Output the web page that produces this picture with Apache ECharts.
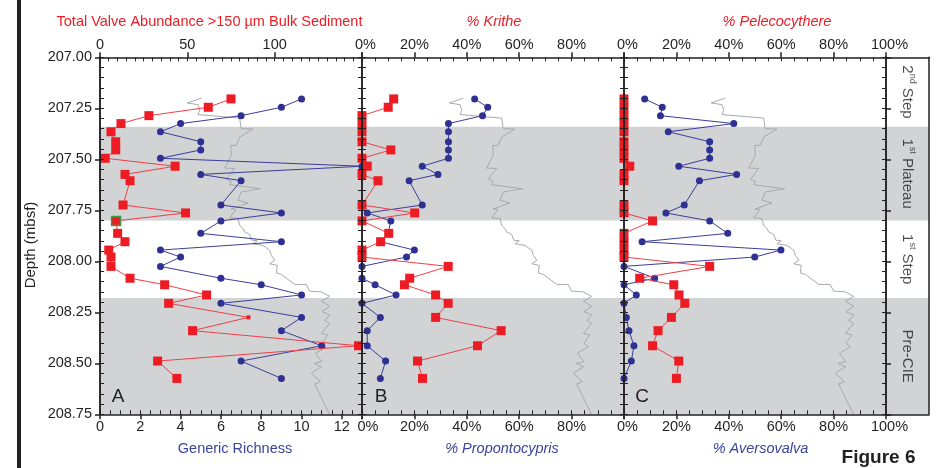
<!DOCTYPE html>
<html>
<head>
<meta charset="utf-8">
<script src="https://cdn.jsdelivr.net/npm/echarts@6/dist/echarts.min.js"></script>
<style>
  html, body { margin: 0; padding: 0; background: #fff; }
  #chart { width: 950px; height: 468px; }
</style>
</head>
<body>
<div id="chart"></div>
<script>
// Sample depths (mbsf) shared by all ostracod series
const depths = [207.204, 207.245, 207.286, 207.325, 207.365, 207.414, 207.454, 207.495, 207.534, 207.574,
  207.605, 207.724, 207.763, 207.802, 207.863, 207.904, 207.945, 207.979, 208.025, 208.083,
  208.115, 208.165, 208.206, 208.275, 208.340, 208.414, 208.489, 208.574];

// Panel A
const valveAbundance = [75, 62, 28, 12, 6.3, 9, 9, 3, 43, 14.3,
  17.2, 13.2, 49, 9.2, 10.1, 14.3, 5, 6.3, 6.3, 17.2,
  37, 61, 39.3, 85, 53, 148, 33, 44];
const genericRichness = [10, 9, 7, 4, 3, 5, 5, 3, 13, 5,
  7, 6, 9, 6, 5, 9, 3, 4, 3, 6,
  8, 10, 6, 10, 9, 11, 7, 9];

// Panel B (%)
const krithe = [12.1, 10, 0, 0, 0, 0, 11, 0, 2, 0,
  6.1, 0, 20.1, 0, 10.2, 7.1, 0, 0, 32.9, 18.2,
  16.2, 28.1, 32.9, 28.1, 53.1, 44.1, 21.2, 23.1];
const propontocypris = [43, 48, 46, 33, 33, 33, 33, 33, 23, 29,
  18, 23, 2, 11, 10, 7, 20, 17, 0, 0,
  5, 13, 0, 7, 2, 2, 9, 7];

// Panel C (%)
const pelecocythere = [0, 0, 0, 0, 0, 0, 0, 0, 2.2, 0,
  0, 0, 0, 10.9, 0, 0, 0, 0, 32.7, 6,
  19, 21, 23.2, 18.1, 13, 10.9, 20.9, 20];
const aversovalva = [7.9, 14.6, 13.9, 41.9, 16.9, 32.7, 32.7, 32.7, 20.9, 43,
  28.8, 23, 16, 32.7, 39.6, 6.9, 59.9, 49.9, 0, 11.7,
  0, 4.7, 0, 0.9, 1.9, 3.8, 2.8, 0];

// Background carbon-isotope trace (relative units, 0-100 across a panel)
const carbonDepths = [207.200, 207.224, 207.232, 207.260, 207.281, 207.298, 207.350, 207.352, 207.391, 207.431,
  207.433, 207.480, 207.543, 207.545, 207.598, 207.608, 207.625, 207.644, 207.660, 207.701,
  207.714, 207.744, 207.746, 207.786, 207.791, 207.824, 207.840, 207.856, 207.868, 207.897,
  207.899, 207.914, 207.922, 207.946, 207.971, 207.995, 208.012, 208.020, 208.057, 208.064,
  208.113, 208.114, 208.146, 208.150, 208.172, 208.195, 208.221, 208.247, 208.263, 208.291,
  208.304, 208.353, 208.361, 208.402, 208.419, 208.451, 208.492, 208.500, 208.517, 208.549,
  208.590, 208.601, 208.750];
const carbonCurve = [38.7, 33.3, 37.4, 38.1, 37.4, 53.3, 53.9, 58.4, 53.3, 52.0,
  49.9, 50.1, 47.6, 51.4, 48.2, 50.1, 49.5, 61.3, 53.9, 52.7,
  56.5, 50.0, 51.9, 49.5, 52.7, 53.3, 54.6, 55.2, 57.1, 58.0,
  60.0, 58.4, 62.2, 64.8, 65.4, 66.7, 64.8, 67.7, 67.3, 69.2,
  74.3, 78.7, 80.0, 84.5, 87.7, 84.5, 87.7, 84.7, 87.7, 85.8,
  87.7, 84.5, 87.0, 84.7, 86.4, 82.2, 84.7, 81.7, 84.5, 80.6,
  84.2, 81.9, 87.6];

// Event zones
const zoneLabels = ['2nd Step', '1st Plateau', '1st Step', 'Pre-CIE'];
const zoneTops = [207.00, 207.34, 207.80, 208.18];
const zoneBases = [207.34, 207.80, 208.18, 208.75];
const zoneShaded = [false, true, false, true];

// Depth axis ticks
const depthMin = 207.00, depthMax = 208.75, depthStep = 0.25, depthMinorStep = 0.05;

// ---------------------------------------------------------------------------
const FONT = '"Liberation Sans", Arial, Helvetica, sans-serif';
const INK = '#231f20';
const RED = '#ed1c24';
const RED_LINE = '#ef4048';
const BLUE = '#2e3192';
const BLUE_LINE = '#3b3e99';
const TITLE_BLUE = '#3a449d';
const GRAY_LINE = '#a7a9ad';
const BAND = '#d1d3d4';
const FS = 14.5;

const panelLeft = [100, 362, 624];
const panelWidth = 262;
const plotTop = 57.3;
const plotHeight = 357;

const grids = panelLeft.map(l => ({
  left: l, top: plotTop, width: panelWidth, height: plotHeight,
  containLabel: false, outerBoundsMode: 'none'
}));
grids.push({ left: 886, top: plotTop, width: 43, height: plotHeight, containLabel: false, outerBoundsMode: 'none' });

const xAxes = [];
const yAxes = [];
const addX = o => { xAxes.push(o); return xAxes.length - 1; };
const addY = o => { yAxes.push(o); return yAxes.length - 1; };

const labelRich = {
  n: { fontSize: FS, fontFamily: FONT, color: INK },
  p: { fontSize: FS, fontFamily: FONT, color: INK, padding: [0, 0, 0, 7] },
  q: { fontSize: FS, fontFamily: FONT, color: INK, padding: [0, 0, 0, 12] }
};

function majorX(grid, position, min, max, interval, fmt) {
  return addX({
    gridIndex: grid, type: 'value', position, min, max, interval, z: 10,
    axisLine: { show: true, onZero: false, lineStyle: { color: INK, width: 1.5 } },
    axisTick: { show: true, inside: false, length: 5, lineStyle: { color: INK, width: 1.5 } },
    minorTick: { show: false },
    axisLabel: {
      show: true, formatter: fmt, color: INK, fontSize: FS, fontFamily: FONT, margin: 5,
      showMinLabel: true, showMaxLabel: true, hideOverlap: false, rich: labelRich
    },
    splitLine: { show: false }
  });
}
function minorX(grid, position, min, max, interval) {
  return addX({
    gridIndex: grid, type: 'value', position, min, max, interval, z: 10,
    axisLine: { show: false, onZero: false },
    axisTick: { show: true, inside: true, length: 4, lineStyle: { color: INK, width: 1 } },
    axisLabel: { show: false }, splitLine: { show: false }
  });
}
function hiddenX(grid, min, max) {
  return addX({ gridIndex: grid, type: 'value', min, max, show: false });
}
function depthAxis(grid, position, major, labels) {
  return addY({
    gridIndex: grid, type: 'value', position, inverse: true,
    min: depthMin, max: depthMax, interval: major ? depthStep : depthMinorStep, z: 10,
    axisLine: { show: true, onZero: false, lineStyle: { color: INK, width: 1.5 } },
    axisTick: major
      ? { show: true, inside: false, length: 5, lineStyle: { color: INK, width: 1.5 } }
      : { show: true, inside: true, length: 4, lineStyle: { color: INK, width: 1 } },
    axisLabel: labels
      ? { show: true, formatter: v => v.toFixed(2), color: INK, fontSize: FS, fontFamily: FONT, margin: 8,
          showMinLabel: true, showMaxLabel: true, hideOverlap: false }
      : { show: false },
    splitLine: { show: false }
  });
}

const pct = v => v === 0 ? '{p|0%}' : (v === 100 ? '{p|100%}' : v + '%');
const pctNoMax = v => v === 0 ? '{p|0%}' : (v === 100 ? '' : v + '%');
const pctNoMaxBottom = v => v === 0 ? '{q|0%}' : (v === 100 ? '' : v + '%');

// Panel A axes
const aTop = majorX(0, 'top', 0, 150, 50, v => v === 150 ? '' : String(v));
minorX(0, 'top', 0, 150, 5);
const aBottom = majorX(0, 'bottom', 0, 13, 2, v => v === 13 ? '' : String(v));
minorX(0, 'bottom', 0, 13, 0.5);
const aGray = hiddenX(0, 0, 100);
const aY = depthAxis(0, 'left', true, true);
depthAxis(0, 'left', false, false);
depthAxis(0, 'right', false, false);

// Panel B axes
const bTop = majorX(1, 'top', 0, 100, 20, pctNoMax);
minorX(1, 'top', 0, 100, 5);
const bBottom = majorX(1, 'bottom', 0, 100, 20, pctNoMaxBottom);
minorX(1, 'bottom', 0, 100, 5);
const bGray = hiddenX(1, 0, 100);
const bY = depthAxis(1, 'left', false, false);
depthAxis(1, 'right', false, false);

// Panel C axes
const cTop = majorX(2, 'top', 0, 100, 20, pct);
minorX(2, 'top', 0, 100, 5);
const cBottom = majorX(2, 'bottom', 0, 100, 20, pct);
minorX(2, 'bottom', 0, 100, 5);
const cGray = hiddenX(2, 0, 100);
const cY = depthAxis(2, 'left', false, false);
depthAxis(2, 'right', false, false);
depthAxis(2, 'right', true, false);

// Zone column axes (frame only)
const frameLine = { show: true, onZero: false, lineStyle: { color: INK, width: 1.5 } };
const zX = addX({ gridIndex: 3, type: 'value', position: 'top', min: 0, max: 1, z: 10,
  axisLine: frameLine, axisTick: { show: false }, axisLabel: { show: false }, splitLine: { show: false } });
addX({ gridIndex: 3, type: 'value', position: 'bottom', min: 0, max: 1, z: 10,
  axisLine: frameLine, axisTick: { show: false }, axisLabel: { show: false }, splitLine: { show: false } });
const zY = addY({ gridIndex: 3, type: 'value', position: 'right', inverse: true, min: depthMin, max: depthMax, z: 10,
  axisLine: frameLine, axisTick: { show: false }, axisLabel: { show: false }, splitLine: { show: false } });

// Shaded zone bands
const bandData = zoneTops
  .map((t, i) => [{ yAxis: t }, { yAxis: zoneBases[i] }])
  .filter((_, i) => zoneShaded[i]);
const bandMark = {
  silent: true, label: { show: false },
  itemStyle: { color: BAND, borderWidth: 0 },
  emphasis: { disabled: true },
  data: bandData
};

const pairs = (xs) => depths.map((d, i) => [xs[i], d]);
const carbonPairs = carbonDepths.map((d, i) => [carbonCurve[i], d]);

const series = [];

function addPanel(gridIdx, grayX, yIdx, blueX, blueVals, redX, redVals, redSymbolSize, redItem) {
  // band host
  series.push({
    type: 'line', xAxisIndex: grayX, yAxisIndex: yIdx, z: 1,
    data: [[0, depthMin], [0, depthMin]], symbol: 'none',
    lineStyle: { opacity: 0 }, silent: true, markArea: bandMark
  });
  // carbon trace
  series.push({
    type: 'line', xAxisIndex: grayX, yAxisIndex: yIdx, z: 2,
    data: carbonPairs, symbol: 'none', silent: true,
    lineStyle: { color: GRAY_LINE, width: 1 }
  });
  series.push({
    type: 'line', xAxisIndex: blueX, yAxisIndex: yIdx, z: 3,
    data: pairs(blueVals), symbol: 'circle', symbolSize: 7, showAllSymbol: true,
    itemStyle: { color: BLUE }, lineStyle: { color: BLUE_LINE, width: 1 }, silent: true
  });
  series.push({
    type: 'line', xAxisIndex: redX, yAxisIndex: yIdx, z: 4,
    data: redItem ? pairs(redVals).map(redItem) : pairs(redVals),
    symbol: 'rect', symbolSize: redSymbolSize || 9, showAllSymbol: true,
    itemStyle: { color: RED }, lineStyle: { color: RED_LINE, width: 1 }, silent: true
  });
}

// Panel A: one bulk-sediment sample is drawn smaller, one outlined
const smallSample = depths.indexOf(208.275);
const outlinedSample = depths.indexOf(207.802);
addPanel(0, aGray, aY, aBottom, genericRichness, aTop, valveAbundance,
  (v, p) => p.dataIndex === smallSample ? 4 : 9,
  (pt, i) => i === outlinedSample
    ? { value: pt, itemStyle: { color: RED, borderColor: '#3c9a46', borderWidth: 1.5 } }
    : pt);
addPanel(1, bGray, bY, bBottom, propontocypris, bTop, krithe);
addPanel(2, cGray, cY, cBottom, aversovalva, cTop, pelecocythere);

// Zone labels in the right-hand column
const zoneText = s => {
  const m = s.match(/^(\d)(st|nd|rd|th) (.*)$/);
  return m ? '{n|' + m[1] + '}{s|' + m[2] + '}{n| ' + m[3] + '}' : '{n|' + s + '}';
};
series.push({
  type: 'scatter', xAxisIndex: zX, yAxisIndex: zY, z: 3, silent: true,
  symbolSize: 0,
  data: zoneTops.map((t, i) => [0.5, (t + zoneBases[i]) / 2]),
  label: {
    show: true, position: 'inside', rotate: -90,
    formatter: p => zoneText(zoneLabels[p.dataIndex]),
    rich: {
      n: { fontSize: 15, fontFamily: FONT, color: INK, lineHeight: 18 },
      s: { fontSize: 9, fontFamily: FONT, color: INK, verticalAlign: 'top', lineHeight: 11 }
    }
  },
  markArea: bandMark
});

const txt = (x, y, text, font, fill, extra) => Object.assign({
  type: 'text', x, y, silent: true, z: 20,
  style: { text, font, fill, align: 'center', verticalAlign: 'middle', textAlign: 'center', textVerticalAlign: 'middle' }
}, extra || {});

const graphic = [
  { type: 'rect', shape: { x: 17, y: 0, width: 4, height: 468 }, style: { fill: INK }, silent: true },
  txt(209.5, 21.5, 'Total Valve Abundance >150 \u00b5m Bulk Sediment', `${FS}px ${FONT}`, RED),
  txt(494, 21.5, '% Krithe', `italic ${FS}px ${FONT}`, RED),
  txt(777, 21.5, '% Pelecocythere', `italic ${FS}px ${FONT}`, RED),
  txt(235, 448.5, 'Generic Richness', `${FS}px ${FONT}`, TITLE_BLUE),
  txt(502, 448.5, '% Propontocypris', `italic ${FS}px ${FONT}`, TITLE_BLUE),
  txt(760.5, 448.5, '% Aversovalva', `italic ${FS}px ${FONT}`, TITLE_BLUE),
  txt(31, 245, 'Depth (mbsf)', `15px ${FONT}`, INK, { rotation: Math.PI / 2 }),
  txt(118, 397, 'A', `19px ${FONT}`, INK),
  txt(381, 397, 'B', `19px ${FONT}`, INK),
  txt(642, 397, 'C', `19px ${FONT}`, INK),
  txt(878.5, 458, 'Figure 6', `bold 19px ${FONT}`, INK)
];

const chart = echarts.init(document.getElementById('chart'), null, { renderer: 'canvas' });
chart.setOption({
  animation: false,
  backgroundColor: '#ffffff',
  grid: grids,
  xAxis: xAxes,
  yAxis: yAxes,
  series,
  graphic
});
</script>
</body>
</html>
